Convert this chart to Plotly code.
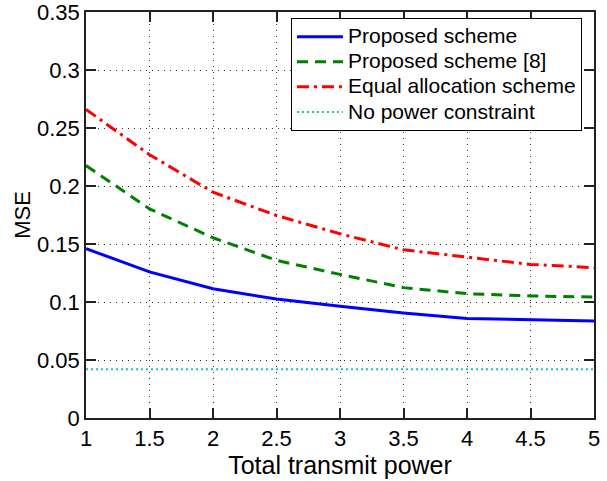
import plotly.graph_objects as go

power = [1, 1.5, 2, 2.5, 3, 3.5, 4, 4.5, 5]
proposed = [0.146, 0.126, 0.1115, 0.1025, 0.0963, 0.0906, 0.0858, 0.0849, 0.0836]
proposed8 = [0.2176, 0.1803, 0.1554, 0.1359, 0.1238, 0.1124, 0.1072, 0.1052, 0.1043]
equal_alloc = [0.266, 0.227, 0.1946, 0.1746, 0.1588, 0.145, 0.1387, 0.1324, 0.1296]
no_constraint = [0.0421] * len(power)

series_names = ["Proposed scheme", "Proposed scheme [8]",
                "Equal allocation scheme", "No power constraint"]

x_ticks = [1, 1.5, 2, 2.5, 3, 3.5, 4, 4.5, 5]
x_tick_text = ["1", "1.5", "2", "2.5", "3", "3.5", "4", "4.5", "5"]
y_ticks = [0, 0.05, 0.1, 0.15, 0.2, 0.25, 0.3, 0.35]
y_tick_text = ["0", "0.05", "0.1", "0.15", "0.2", "0.25", "0.3", "0.35"]


def legend_label(s):
    return '<span style="font-size:21px">' + s + '</span>'


fig = go.Figure()
fig.add_trace(go.Scatter(x=power, y=proposed, mode="lines", name=legend_label(series_names[0]),
                         line=dict(color="#0000ff", width=3)))
fig.add_trace(go.Scatter(x=power, y=proposed8, mode="lines", name=legend_label(series_names[1]),
                         line=dict(color="#008000", width=3, dash="11px,7px")))
fig.add_trace(go.Scatter(x=power, y=equal_alloc, mode="lines", name=legend_label(series_names[2]),
                         line=dict(color="#ff0000", width=3, dash="12px,5px,3px,5px")))
fig.add_trace(go.Scatter(x=power, y=no_constraint, mode="lines", name=legend_label(series_names[3]),
                         line=dict(color="#20c0c0", width=2, dash="2px,3px")))

font = "Liberation Sans, Arial, sans-serif"
fig.update_layout(
    width=607, height=481,
    margin=dict(l=86, r=13, t=12, b=63),
    paper_bgcolor="white", plot_bgcolor="white",
    font=dict(family=font, size=22, color="black"),
    showlegend=True,
    legend=dict(x=0.4035, y=0.985, xanchor="left", yanchor="top",
                bordercolor="black", borderwidth=1, bgcolor="white",
                font=dict(size=17), tracegroupgap=0, itemwidth=46),
)
axis_common = dict(
    showgrid=True, gridcolor="#333333", griddash="1px,5px", gridwidth=1,
    showline=True, linecolor="#222222", linewidth=1.5, mirror="ticks",
    ticks="inside", ticklen=10, tickcolor="#222222", tickwidth=1.5,
    zeroline=False, automargin=False, tickfont=dict(size=22),
    ticklabeloverflow="allow",
)
fig.update_xaxes(
    range=[1, 5], tickvals=x_ticks, ticktext=x_tick_text,
    title=dict(text="Total transmit power", font=dict(size=25), standoff=2),
    **axis_common,
)
fig.update_yaxes(
    range=[0, 0.35], tickvals=y_ticks, ticktext=y_tick_text,
    title=dict(text="MSE", font=dict(size=22), standoff=0),
    **axis_common,
)

fig.write_html("out.html", config={"displayModeBar": False},
               post_script="document.body.style.margin='0';")
